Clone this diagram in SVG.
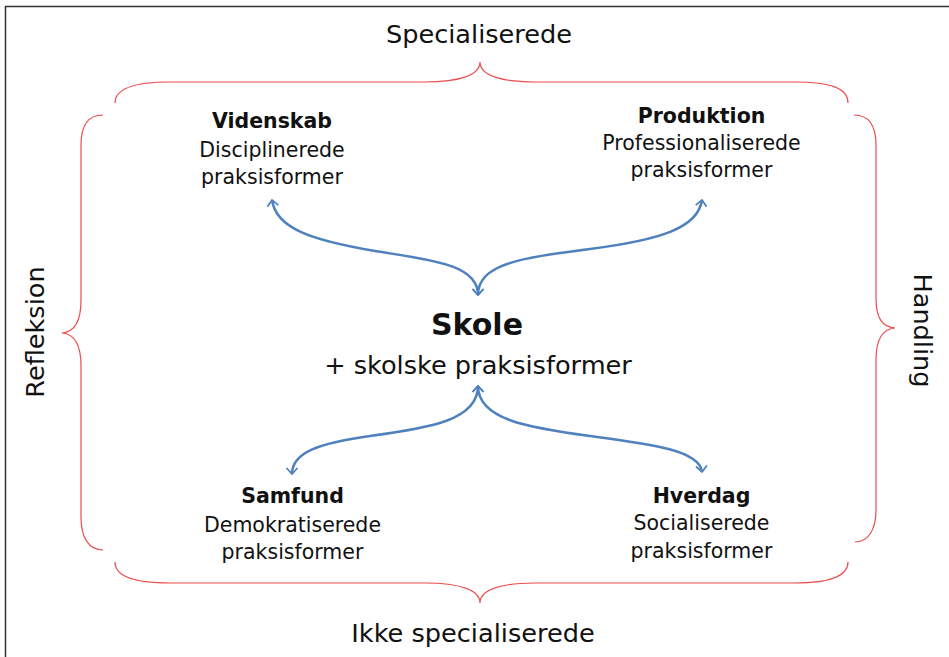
<svg xmlns="http://www.w3.org/2000/svg" width="949" height="657" viewBox="0 0 949 657">
<defs>
<style>
text{font-family:"DejaVu Sans","Liberation Sans",sans-serif;fill:#111;text-anchor:middle}
.lbl{font-size:25.6px}
.t{font-size:20.5px}
.b{font-weight:bold}
.brace{fill:none;stroke:#ec4b4b;stroke-width:1.2}
.arr{fill:none;stroke:#4f81bd;stroke-width:2.5;marker-start:url(#ah);marker-end:url(#ah)}
</style>
<marker id="ah" markerUnits="userSpaceOnUse" markerWidth="16" markerHeight="16" viewBox="-8 -8 16 16" refX="0" refY="0" orient="auto-start-reverse" overflow="visible">
<path d="M-6,-5.5 L0,0 L-6,5.5" fill="none" stroke="#4f81bd" stroke-width="1.8" stroke-linejoin="miter"/>
</marker>
</defs>
<rect x="0" y="0" width="949" height="657" fill="#fff"/>
<rect id="frame" x="5.5" y="6.5" width="1000" height="700" fill="#fff" stroke="#333" stroke-width="1.5"/>
<g id="braces">
<path class="brace" d="M115,103 C115,88 135,82 170,82 L425,82 C460,82 480,75 480,62 C480,75 500,82 535,82 L795,82 C830,82 848,88 848,103"/>
<path class="brace" d="M115,562 C115,576 135,583 170,583 L425,583 C460,583 480,590 480,603 C480,590 500,583 535,583 L795,583 C830,583 848,576 848,562"/>
<path class="brace" d="M103,115 C89,115 81,125 81,145 L81,300 C81,320 75,332 62,333 C75,334 81,346 81,366 L81,517 C81,538 89,550 103,550"/>
<path class="brace" d="M854,115 C868,115 876,125 876,145 L876,298 C876,318 882,327 895,328 C882,329 876,340 876,360 L876,510 C876,530 868,542 855,542"/>
</g>
<g id="edge-labels">
<text class="lbl" x="479" y="42.5">Specialiserede</text>
<text class="lbl" x="473" y="641.5">Ikke specialiserede</text>
<text class="lbl" transform="translate(44,332) rotate(-90)">Refleksion</text>
<text class="lbl" transform="translate(914,330.5) rotate(90)">Handling</text>
</g>
<g id="connectors">
<path class="arr" d="M272,200 C276,228 310,240 375,251 C430,260 478,264 478,295"/>
<path class="arr" d="M702,200 C698,228 660,240 590,249 C520,258 478,264 478,295"/>
<path class="arr" d="M478,386 C478,420 430,428 370,436 C320,443 292,452 292,474"/>
<path class="arr" d="M478,386 C478,420 530,428 590,436 C650,444 700,450 702,472"/>
</g>
<g id="skole">
<text class="b" x="477" y="334.5" style="font-size:30px">Skole</text>
<text class="lbl" x="478" y="373.5">+ skolske praksisformer</text>
</g>
<g id="videnskab">
<text class="t b" x="272" y="128">Videnskab</text>
<text class="t" x="272" y="156.5">Disciplinerede</text>
<text class="t" x="272" y="184">praksisformer</text>
</g>
<g id="produktion">
<text class="t b" x="701.5" y="123">Produktion</text>
<text class="t" x="701.5" y="150">Professionaliserede</text>
<text class="t" x="701.5" y="177">praksisformer</text>
</g>
<g id="samfund">
<text class="t b" x="292.5" y="503">Samfund</text>
<text class="t" x="292.5" y="531.5">Demokratiserede</text>
<text class="t" x="292.5" y="559">praksisformer</text>
</g>
<g id="hverdag">
<text class="t b" x="701.5" y="502.5">Hverdag</text>
<text class="t" x="701.5" y="530">Socialiserede</text>
<text class="t" x="701.5" y="557.5">praksisformer</text>
</g>
</svg>
